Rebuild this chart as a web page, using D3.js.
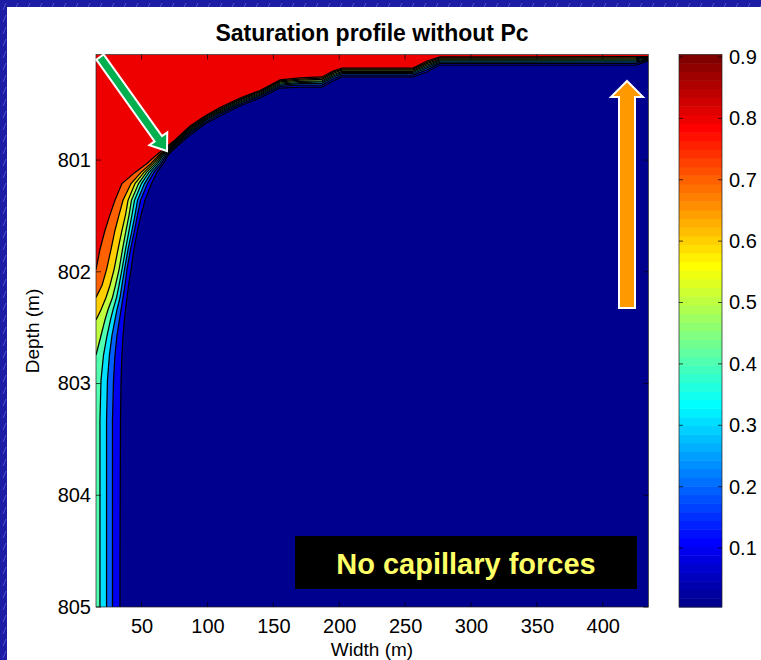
<!DOCTYPE html>
<html>
<head>
<meta charset="utf-8">
<script src="https://cdn.jsdelivr.net/npm/d3@7"></script>
<style>
html, body { margin: 0; padding: 0; background: #1c1ca4; }
svg { display: block; font-family: "Liberation Sans", Arial, sans-serif; }
</style>
</head>
<body>
<svg id="chart" width="761" height="660"></svg>
<script>
// contour levels of the saturation field (filled contours, jet colormap)
var levels = [0.1, 0.2, 0.3, 0.4, 0.5, 0.6, 0.7, 0.8];
var cmin = 0.004, cmax = 0.904;

var xTicks = [50, 100, 150, 200, 250, 300, 350, 400];
var yTicks = [801, 802, 803, 804, 805];
var cTicks = [0.1, 0.2, 0.3, 0.4, 0.5, 0.6, 0.7, 0.8, 0.9];

// left flank of the front: depth rows (m), bottom to top
var sideDepth = [805, 804.58, 803.33, 802.97, 802.745, 802.57, 802.43, 802.34, 802.23, 802.12,
                 801.98, 801.80, 801.63, 801.49, 801.36, 801.21, 801.11, 801.03, 800.95];
// width (m) of each iso-line on those rows (null = line already left through the side)
var sideWidth = [
  [33.6, 33.6, 34.0, 34.4, 35.1, 35.9, 37.0, 37.8, 38.9, 40.1, 42.0, 44.2, 46.9, 49.6, 52.6, 57.5, 61.7, 66.6, 70.4],
  [27.9, 27.9, 27.9, 28.7, 29.8, 31.3, 33.2, 34.4, 35.9, 37.4, 38.9, 41.6, 44.6, 46.9, 49.2, 54.5, 59.4, 65.1, 69.3],
  [23.4, 23.4, 23.4, 24.1, 25.6, 27.5, 29.8, 31.3, 33.6, 35.1, 37.0, 39.7, 42.7, 45.0, 46.9, 52.2, 57.5, 63.6, 68.2],
  [18.4, 18.4, 18.4, 19.2, 21.1, 23.8, 26.4, 28.3, 31.0, 32.9, 35.1, 37.8, 40.5, 42.7, 44.6, 49.9, 55.6, 62.1, 67.0],
  [null, null, null, null, 15.4, 19.2, 22.2, 24.5, 27.9, 30.2, 32.9, 35.5, 38.2, 40.5, 42.3, 47.7, 53.7, 60.6, 65.9],
  [null, null, null, null, null, null, 15.4, 19.2, 23.0, 26.0, 29.1, 32.1, 35.1, 37.8, 39.7, 45.0, 51.8, 59.0, 64.7],
  [null, null, null, null, null, null, null, null, 15.4, 20.0, 23.4, 26.8, 29.8, 32.9, 35.9, 42.0, 49.6, 57.2, 63.6],
  [null, null, null, null, null, null, null, null, null, null, 15.4, 18.4, 22.2, 26.0, 29.8, 35.1, 45.0, 54.1, 61.7]
];

// top of the front: width columns (m) and depth (m) of each iso-line there
var topWidth = [75.4, 86.8, 98.1, 109.5, 124.7, 139.9, 155.1, 170.2, 186.9, 195.3, 202.1, 256.0, 266.6, 276.5, 425.3, 434.6];
var topDepth = [
  [800.892, 800.775, 800.677, 800.605, 800.516, 800.444, 800.355, 800.346, 800.346, 800.292, 800.256, 800.256, 800.212, 800.149, 800.149, 800.113],
  [800.878, 800.759, 800.663, 800.590, 800.501, 800.431, 800.341, 800.330, 800.328, 800.274, 800.240, 800.240, 800.192, 800.135, 800.134, 800.105],
  [800.865, 800.746, 800.650, 800.577, 800.489, 800.420, 800.328, 800.316, 800.313, 800.259, 800.227, 800.227, 800.175, 800.123, 800.121, 800.098],
  [800.856, 800.735, 800.641, 800.567, 800.480, 800.411, 800.319, 800.306, 800.301, 800.247, 800.216, 800.216, 800.162, 800.113, 800.111, 800.093],
  [800.847, 800.725, 800.632, 800.558, 800.471, 800.402, 800.310, 800.295, 800.290, 800.236, 800.206, 800.206, 800.150, 800.104, 800.101, 800.088],
  [800.837, 800.714, 800.623, 800.548, 800.461, 800.393, 800.300, 800.285, 800.278, 800.224, 800.195, 800.195, 800.137, 800.095, 800.091, 800.083],
  [800.829, 800.705, 800.614, 800.538, 800.453, 800.385, 800.292, 800.275, 800.267, 800.213, 800.186, 800.186, 800.125, 800.086, 800.082, 800.078],
  [800.820, 800.695, 800.605, 800.529, 800.444, 800.377, 800.283, 800.265, 800.256, 800.203, 800.176, 800.176, 800.113, 800.077, 800.073, 800.073]
];

var xMin = 15.4, xMax = 434.6, dTop = 800.055, dBot = 805;

// matlab jet(64)
var jet = (function() {
  var n = 16, u = [], m = 64, out = [];
  for (var i = 1; i <= n; i++) u.push(i / n);
  for (var i = 0; i < n - 1; i++) u.push(1);
  for (var i = n; i >= 1; i--) u.push(i / n);
  for (var k = 1; k <= m; k++) {
    var g = u[k - 8 - 1] || 0, r = u[k - 24 - 1] || 0, b = u[k + 8 - 1] || 0;
    out.push(d3.rgb(r * 255, g * 255, b * 255).formatHex());
  }
  return out;
})();
function cmap(v) {
  var k = Math.floor((v - cmin) / (cmax - cmin) * 64);
  return jet[Math.max(0, Math.min(63, k))];
}

var svg = d3.select("#chart");

// slide background + white panel
var defs = svg.append("defs");
var pat = defs.append("pattern").attr("id", "dash").attr("patternUnits", "userSpaceOnUse")
    .attr("width", 12).attr("height", 12);
pat.append("rect").attr("width", 12).attr("height", 12).attr("fill", "#1c1ca4");
pat.append("line").attr("x1", 3).attr("y1", 10).attr("x2", 6).attr("y2", 3)
    .attr("stroke", "#5a5ad0").attr("stroke-width", 0.8);
svg.append("rect").attr("width", 761).attr("height", 660).attr("fill", "url(#dash)");
svg.append("rect").attr("x", 7).attr("y", 7).attr("width", 754).attr("height", 653).attr("fill", "#fff");

var x = d3.scaleLinear().domain([xMin, xMax]).range([96, 648.3]);
var y = d3.scaleLinear().domain([dTop, dBot]).range([54.5, 607]);

defs.append("clipPath").attr("id", "plotclip").append("rect")
    .attr("x", x(xMin)).attr("y", y(dTop)).attr("width", x(xMax) - x(xMin)).attr("height", y(dBot) - y(dTop));

function isoLine(i) {
  var pts = [];
  sideDepth.forEach(function(d, j) {
    if (sideWidth[i][j] != null) pts.push([sideWidth[i][j], d]);
  });
  topWidth.forEach(function(w, j) { pts.push([w, topDepth[i][j]]); });
  return pts;
}

var line = d3.line().x(function(d) { return x(d[0]); }).y(function(d) { return y(d[1]); });
var plot = svg.append("g").attr("clip-path", "url(#plotclip)");

// band above the highest level
plot.append("rect").attr("x", x(xMin)).attr("y", y(dTop))
    .attr("width", x(xMax) - x(xMin)).attr("height", y(dBot) - y(dTop))
    .attr("fill", cmap(levels[levels.length - 1]));

for (var i = levels.length - 1; i >= 0; i--) {
  var poly = isoLine(i).concat([[xMax, dBot], [xMin, dBot]]);
  var below = i > 0 ? levels[i - 1] : cmin;
  plot.append("path").attr("d", line(poly) + "Z").attr("fill", cmap(below));
}
levels.forEach(function(l, i) {
  plot.append("path").attr("d", line(isoLine(i))).attr("fill", "none")
      .attr("stroke", "#000").attr("stroke-width", 1.25);
});

// axes box and inward ticks
var axisG = svg.append("g");
axisG.append("rect").attr("x", x(xMin)).attr("y", y(dTop))
    .attr("width", x(xMax) - x(xMin)).attr("height", y(dBot) - y(dTop))
    .attr("fill", "none").attr("stroke", "#222").attr("stroke-width", 0.7);
xTicks.forEach(function(t) {
  axisG.append("line").attr("x1", x(t)).attr("x2", x(t)).attr("y1", y(dBot)).attr("y2", y(dBot) - 5)
      .attr("stroke", "#000").attr("stroke-width", 0.7);
  axisG.append("line").attr("x1", x(t)).attr("x2", x(t)).attr("y1", y(dTop)).attr("y2", y(dTop) + 5)
      .attr("stroke", "#000").attr("stroke-width", 0.7);
});
yTicks.forEach(function(t) {
  axisG.append("line").attr("x1", x(xMin)).attr("x2", x(xMin) + 5).attr("y1", y(t)).attr("y2", y(t))
      .attr("stroke", "#000").attr("stroke-width", 0.7);
  axisG.append("line").attr("x1", x(xMax)).attr("x2", x(xMax) - 5).attr("y1", y(t)).attr("y2", y(t))
      .attr("stroke", "#000").attr("stroke-width", 0.7);
});

var xAxis = svg.append("g").attr("transform", "translate(0," + y(dBot) + ")")
    .call(d3.axisBottom(x).tickValues(xTicks).tickSize(0).tickPadding(12));
var yAxis = svg.append("g").attr("transform", "translate(" + x(xMin) + ",0)")
    .call(d3.axisLeft(y).tickValues(yTicks).tickSize(0).tickPadding(5).tickFormat(d3.format("d")));
[xAxis, yAxis].forEach(function(g) {
  g.select(".domain").remove();
  g.selectAll("text").attr("font-size", 20).attr("fill", "#000")
      .attr("font-family", "'Liberation Sans', Arial, sans-serif");
});

svg.append("text").attr("x", 372).attr("y", 41).attr("text-anchor", "middle")
    .attr("font-size", 23).attr("font-weight", "bold").text("Saturation profile without Pc");
svg.append("text").attr("x", 372).attr("y", 656).attr("text-anchor", "middle")
    .attr("font-size", 19).text("Width (m)");
svg.append("text").attr("transform", "translate(39,331) rotate(-90)").attr("text-anchor", "middle")
    .attr("font-size", 19).text("Depth (m)");

// colorbar
var cy = d3.scaleLinear().domain([cmin, cmax]).range([607, 54.5]);
var cb = svg.append("g");
var step = (cmax - cmin) / 64;
d3.range(64).forEach(function(k) {
  var v0 = cmin + k * step;
  cb.append("rect").attr("x", 679).attr("width", 43)
      .attr("y", cy(v0 + step)).attr("height", cy(v0) - cy(v0 + step) + 0.5)
      .attr("fill", jet[k]);
});
cb.append("rect").attr("x", 679).attr("y", cy(cmax)).attr("width", 43).attr("height", cy(cmin) - cy(cmax))
    .attr("fill", "none").attr("stroke", "#222").attr("stroke-width", 0.7);
cTicks.forEach(function(t) {
  cb.append("line").attr("x1", 679).attr("x2", 683).attr("y1", cy(t)).attr("y2", cy(t)).attr("stroke", "#000").attr("stroke-width", 0.7);
  cb.append("line").attr("x1", 722).attr("x2", 718).attr("y1", cy(t)).attr("y2", cy(t)).attr("stroke", "#000").attr("stroke-width", 0.7);
});
var cAxis = svg.append("g").attr("transform", "translate(722,0)")
    .call(d3.axisRight(cy).tickValues(cTicks).tickSize(0).tickPadding(7).tickFormat(d3.format(".1f")));
cAxis.select(".domain").remove();
cAxis.selectAll("text").attr("font-size", 20).attr("fill", "#000")
    .attr("font-family", "'Liberation Sans', Arial, sans-serif");

// annotations
function arrowPts(x0, y0, x1, y1, sw, hw, hl) {
  var dx = x1 - x0, dy = y1 - y0, L = Math.hypot(dx, dy);
  var ux = dx / L, uy = dy / L, nx = -uy, ny = ux;
  var bx = x1 - ux * hl, by = y1 - uy * hl;
  return [[x0 + nx * sw / 2, y0 + ny * sw / 2], [bx + nx * sw / 2, by + ny * sw / 2],
          [bx + nx * hw / 2, by + ny * hw / 2], [x1, y1], [bx - nx * hw / 2, by - ny * hw / 2],
          [bx - nx * sw / 2, by - ny * sw / 2], [x0 - nx * sw / 2, y0 - ny * sw / 2]];
}
svg.append("polygon").attr("points", arrowPts(100, 57, 167, 151, 9, 22, 15).join(" "))
    .attr("fill", "#00b050").attr("stroke", "#fff").attr("stroke-width", 2);
svg.append("polygon").attr("points", arrowPts(627, 308, 627, 81, 16, 32, 16).join(" "))
    .attr("fill", "#ff9900").attr("stroke", "#fff").attr("stroke-width", 2);

svg.append("rect").attr("x", 295).attr("y", 536).attr("width", 342).attr("height", 53).attr("fill", "#000");
svg.append("text").attr("x", 466).attr("y", 574).attr("text-anchor", "middle")
    .attr("font-size", 29).attr("font-weight", "bold").attr("fill", "#ffff66")
    .text("No capillary forces");
</script>
</body>
</html>
